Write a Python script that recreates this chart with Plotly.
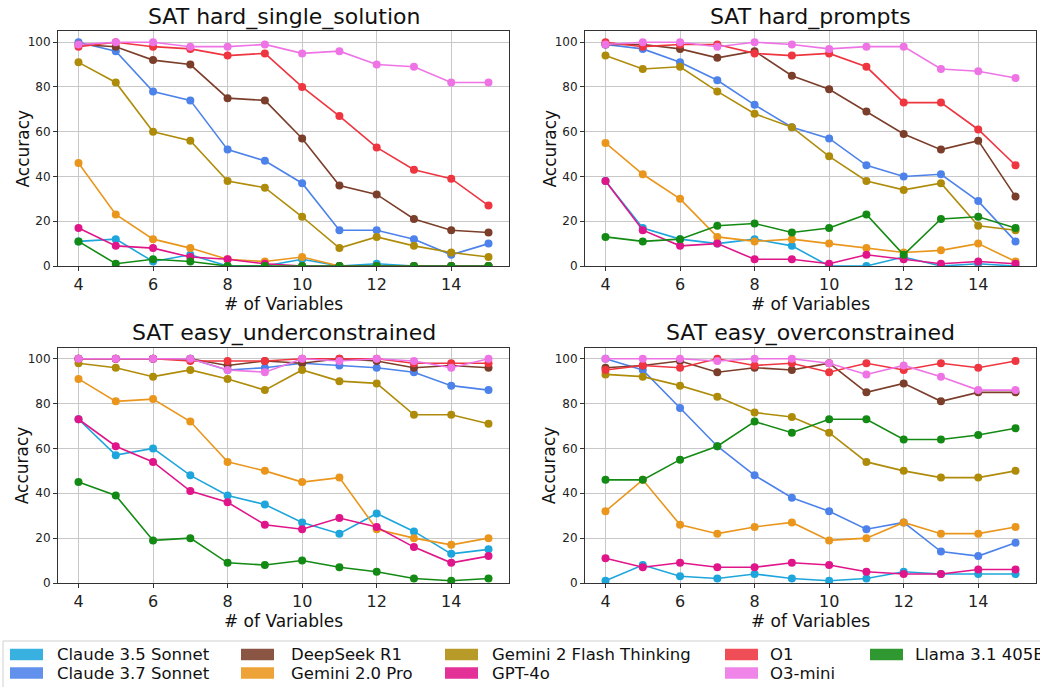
import plotly.graph_objects as go

N_VARS = [4, 5, 6, 7, 8, 9, 10, 11, 12, 13, 14, 15]

MODELS = [
    "Claude 3.5 Sonnet", "Claude 3.7 Sonnet", "DeepSeek R1", "Gemini 2.0 Pro",
    "Gemini 2 Flash Thinking", "GPT-4o", "O1", "O3-mini", "Llama 3.1 405B",
]

COLORS = {
    "Claude 3.5 Sonnet": "#1ea6dc",
    "Claude 3.7 Sonnet": "#4c82ea",
    "DeepSeek R1": "#7b3e2a",
    "Gemini 2.0 Pro": "#ea961c",
    "Gemini 2 Flash Thinking": "#ae8c0a",
    "GPT-4o": "#e0158a",
    "O1": "#ee3540",
    "O3-mini": "#ee74e6",
    "Llama 3.1 405B": "#138a14",
}

HARD_SINGLE = {
    "Claude 3.5 Sonnet": [11, 12, 2, 5, 0, 0, 3, 0, 1, 0, 0, 0],
    "Claude 3.7 Sonnet": [100, 96, 78, 74, 52, 47, 37, 16, 16, 12, 5, 10],
    "DeepSeek R1": [99, 98, 92, 90, 75, 74, 57, 36, 32, 21, 16, 15],
    "Gemini 2.0 Pro": [46, 23, 12, 8, 3, 2, 4, 0, 0, 0, 0, 0],
    "Gemini 2 Flash Thinking": [91, 82, 60, 56, 38, 35, 22, 8, 13, 9, 6, 4],
    "GPT-4o": [17, 9, 8, 4, 3, 1, 0, 0, 0, 0, 0, 0],
    "O1": [98, 100, 98, 97, 94, 95, 80, 67, 53, 43, 39, 27],
    "O3-mini": [99, 100, 100, 98, 98, 99, 95, 96, 90, 89, 82, 82],
    "Llama 3.1 405B": [11, 1, 3, 2, 0, 0, 0, 0, 0, 0, 0, 0],
}

HARD_PROMPTS = {
    "Claude 3.5 Sonnet": [38, 17, 12, 10, 12, 9, 0, 0, 4, 0, 1, 0],
    "Claude 3.7 Sonnet": [99, 97, 91, 83, 72, 62, 57, 45, 40, 41, 29, 11],
    "DeepSeek R1": [99, 99, 97, 93, 96, 85, 79, 69, 59, 52, 56, 31],
    "Gemini 2.0 Pro": [55, 41, 30, 13, 11, 12, 10, 8, 6, 7, 10, 2],
    "Gemini 2 Flash Thinking": [94, 88, 89, 78, 68, 62, 49, 38, 34, 37, 18, 16],
    "GPT-4o": [38, 16, 9, 10, 3, 3, 1, 5, 3, 1, 2, 1],
    "O1": [100, 98, 99, 99, 95, 94, 95, 89, 73, 73, 61, 45],
    "O3-mini": [99, 100, 100, 98, 100, 99, 97, 98, 98, 88, 87, 84],
    "Llama 3.1 405B": [13, 11, 12, 18, 19, 15, 17, 23, 5, 21, 22, 17],
}

EASY_UNDER = {
    "Claude 3.5 Sonnet": [73, 57, 60, 48, 39, 35, 27, 22, 31, 23, 13, 15],
    "Claude 3.7 Sonnet": [100, 100, 100, 100, 95, 96, 98, 97, 96, 94, 88, 86],
    "DeepSeek R1": [100, 100, 100, 100, 97, 99, 98, 100, 99, 96, 97, 96],
    "Gemini 2.0 Pro": [91, 81, 82, 72, 54, 50, 45, 47, 24, 20, 17, 20],
    "Gemini 2 Flash Thinking": [98, 96, 92, 95, 91, 86, 95, 90, 89, 75, 75, 71],
    "GPT-4o": [73, 61, 54, 41, 36, 26, 24, 29, 25, 16, 9, 12],
    "O1": [100, 100, 100, 99, 99, 99, 100, 100, 100, 98, 98, 98],
    "O3-mini": [100, 100, 100, 100, 95, 94, 100, 99, 100, 99, 96, 100],
    "Llama 3.1 405B": [45, 39, 19, 20, 9, 8, 10, 7, 5, 2, 1, 2],
}

EASY_OVER = {
    "Claude 3.5 Sonnet": [1, 8, 3, 2, 4, 2, 1, 2, 5, 4, 4, 4],
    "Claude 3.7 Sonnet": [100, 95, 78, 61, 48, 38, 32, 24, 27, 14, 12, 18],
    "DeepSeek R1": [96, 97, 99, 94, 96, 95, 98, 85, 89, 81, 85, 85],
    "Gemini 2.0 Pro": [32, 46, 26, 22, 25, 27, 19, 20, 27, 22, 22, 25],
    "Gemini 2 Flash Thinking": [93, 92, 88, 83, 76, 74, 67, 54, 50, 47, 47, 50],
    "GPT-4o": [11, 7, 9, 7, 7, 9, 8, 5, 4, 4, 6, 6],
    "O1": [95, 97, 96, 100, 97, 98, 94, 98, 95, 98, 96, 99],
    "O3-mini": [100, 100, 100, 99, 100, 100, 98, 93, 97, 92, 86, 86],
    "Llama 3.1 405B": [46, 46, 55, 61, 72, 67, 73, 73, 64, 64, 66, 69],
}

PANELS = [
    ("SAT hard_single_solution", HARD_SINGLE),
    ("SAT hard_prompts", HARD_PROMPTS),
    ("SAT easy_underconstrained", EASY_UNDER),
    ("SAT easy_overconstrained", EASY_OVER),
]

FONT = "DejaVu Sans"
W, H = 1040, 687
M_L, M_R, M_T, M_B = 58, 4, 31, 104
PW, PH = W - M_L - M_R, H - M_T - M_B


def px_x(px):
    return (px - M_L) / PW


def px_y(py):
    return (H - M_B - py) / PH


# axes boxes in pixels: (left, right, top, bottom)
BOXES = [(58, 509, 31, 266), (585, 1036, 31, 266),
         (58, 509, 347.5, 583), (585, 1036, 347.5, 583)]

fig = go.Figure()
layout_axes = {}
annotations = []

for i, ((title, data), (l, r, t, b)) in enumerate(zip(PANELS, BOXES)):
    n = i + 1
    xa = "x" if n == 1 else f"x{n}"
    ya = "y" if n == 1 else f"y{n}"
    for model in MODELS:
        fig.add_trace(go.Scatter(
            x=N_VARS, y=data[model], mode="lines+markers", name=model,
            line=dict(color=COLORS[model], width=1.6),
            marker=dict(color=COLORS[model], size=8),
            xaxis=xa, yaxis=ya, showlegend=False,
        ))
    axis_common = dict(
        showline=True, linecolor="#333333", linewidth=1, mirror=True,
        showgrid=True, gridcolor="#c8c8c8", gridwidth=1, zeroline=False,
        ticks="outside", ticklen=4, tickcolor="#333333",
    )
    layout_axes["xaxis" if n == 1 else f"xaxis{n}"] = dict(
        domain=[px_x(l), px_x(r)], anchor=ya, range=[3.45, 15.55],
        tickvals=[4, 6, 8, 10, 12, 14], tickfont=dict(size=16, color="#222"),
        title=dict(text="# of Variables", font=dict(size=17, color="#111"), standoff=2),
        **axis_common,
    )
    layout_axes["yaxis" if n == 1 else f"yaxis{n}"] = dict(
        domain=[px_y(b), px_y(t)], anchor=xa, range=[0, 105],
        tickvals=[0, 20, 40, 60, 80, 100], tickfont=dict(size=12, color="#222"),
        **axis_common,
    )
    annotations.append(dict(
        text=title, x=px_x((l + r) / 2), y=px_y(t - 14), xref="paper", yref="paper",
        xanchor="center", yanchor="middle", showarrow=False,
        font=dict(size=22, color="#111"),
    ))
    annotations.append(dict(
        text="Accuracy", x=px_x(l - 36), y=px_y((t + b) / 2), xref="paper", yref="paper",
        xanchor="center", yanchor="middle", textangle=-90, showarrow=False,
        font=dict(size=17, color="#111"),
    ))

# figure-level legend (matplotlib style, 2 rows, column-major)
LEG_PATCH_X = [10, 241, 445, 725, 870]
LEG_TEXT_X = [55, 289, 490, 768, 913]
LEG_ROW_Y = [654.5, 673]
shapes = [dict(
    type="rect", xref="paper", yref="paper",
    x0=px_x(3), x1=px_x(1045), y0=px_y(692), y1=px_y(641),
    line=dict(color="#d0d0d0", width=1), fillcolor="white", layer="below",
)]
for idx, model in enumerate(MODELS):
    col, row = idx // 2, idx % 2
    cy = LEG_ROW_Y[row]
    shapes.append(dict(
        type="rect", xref="paper", yref="paper",
        x0=px_x(LEG_PATCH_X[col]), x1=px_x(LEG_PATCH_X[col] + 33),
        y0=px_y(cy + 5.8), y1=px_y(cy - 5.8),
        line=dict(width=0), fillcolor=COLORS[model], opacity=0.88,
    ))
    annotations.append(dict(
        text=model, x=px_x(LEG_TEXT_X[col]), y=px_y(cy), xref="paper", yref="paper",
        xanchor="left", yanchor="middle", showarrow=False,
        font=dict(size=16.5, color="#111"),
    ))

fig.update_layout(
    width=W, height=H,
    margin=dict(l=M_L, r=M_R, t=M_T, b=M_B, autoexpand=False),
    paper_bgcolor="white", plot_bgcolor="white",
    font=dict(family=FONT, color="#111"),
    annotations=annotations, shapes=shapes,
    showlegend=False,
    **layout_axes,
)

# the page should start flush at the top-left corner, like the original image
fig.write_html(
    "out.html",
    config={"displayModeBar": False},
    post_script="document.body.style.margin='0';",
)
